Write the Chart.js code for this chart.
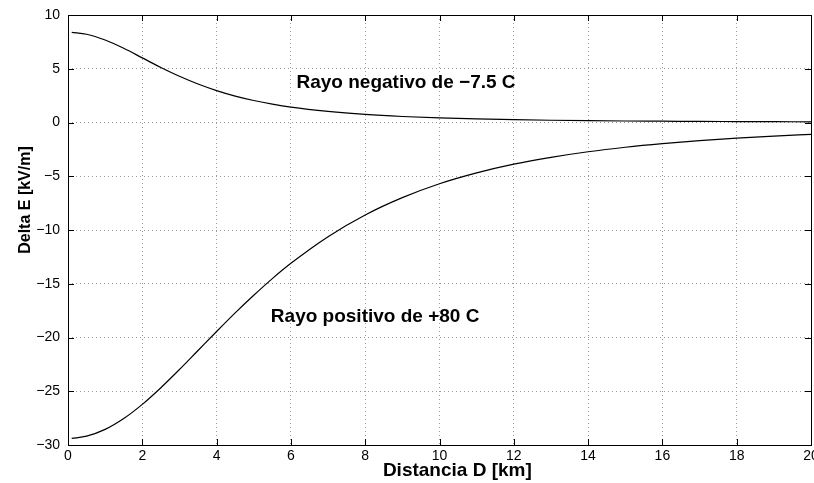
<!DOCTYPE html>
<html>
<head>
<meta charset="utf-8">
<script src="https://cdn.jsdelivr.net/npm/chart.js@4/dist/chart.umd.min.js"></script>
<style>
  html, body { margin: 0; padding: 0; background: #fff; }
  #wrap { width: 814px; height: 483px; }
</style>
</head>
<body>
<div id="wrap"><canvas id="fieldChart"></canvas></div>
<script>
// distance D [km]
const distKm = [0.1, 0.5, 1, 1.5, 2, 2.5, 3, 3.5, 4, 4.5, 5, 5.5, 6, 7, 8, 9, 10, 11, 12, 13, 14, 15, 16, 17, 18, 19, 20];
// Delta E [kV/m], negative stroke (-7.5 C)
const negStroke = [8.39, 8.21, 7.67, 6.90, 6.01, 5.12, 4.30, 3.58, 2.97, 2.46, 2.05, 1.71, 1.43, 1.03, 0.75, 0.56, 0.43, 0.34, 0.27, 0.21, 0.17, 0.14, 0.12, 0.10, 0.086, 0.074, 0.063];
// Delta E [kV/m], positive stroke (+80 C)
const posStroke = [-29.39, -29.18, -28.55, -27.54, -26.22, -24.67, -22.98, -21.21, -19.44, -17.71, -16.07, -14.52, -13.10, -10.62, -8.60, -6.99, -5.70, -4.69, -3.88, -3.24, -2.72, -2.30, -1.96, -1.68, -1.45, -1.26, -1.10];

const xTicks = [0, 2, 4, 6, 8, 10, 12, 14, 16, 18, 20];
const yTicks = [10, 5, 0, -5, -10, -15, -20, -25, -30];

const labelNeg = 'Rayo negativo de \u22127.5 C';
const labelPos = 'Rayo positivo de +80 C';
const xTitle = 'Distancia D [km]';
const yTitle = 'Delta E [kV/m]';

const FONT = '"Liberation Sans", Arial, Helvetica, sans-serif';
const minus = v => String(v).replace('-', '\u2212');

// frame, inner tick marks, annotations and axis titles (MATLAB look)
const matlabAxes = {
    id: 'matlabAxes',
    afterDraw(chart) {
        const ctx = chart.ctx;
        const a = chart.chartArea;
        const xs = chart.scales.x, ys = chart.scales.y;
        const len = 6;
        ctx.save();
        ctx.strokeStyle = '#000';
        ctx.lineWidth = 1;
        ctx.setLineDash([]);
        ctx.beginPath();
        xTicks.forEach(t => {
            const px = Math.round(xs.getPixelForValue(t)) + 0.5;
            ctx.moveTo(px, a.bottom); ctx.lineTo(px, a.bottom - len);
            ctx.moveTo(px, a.top); ctx.lineTo(px, a.top + len);
        });
        yTicks.forEach(t => {
            const py = Math.round(ys.getPixelForValue(t)) + 0.5;
            ctx.moveTo(a.left, py); ctx.lineTo(a.left + len, py);
            ctx.moveTo(a.right, py); ctx.lineTo(a.right - len, py);
        });
        ctx.stroke();
        ctx.strokeRect(Math.round(a.left) + 0.5, Math.round(a.top) + 0.5,
            Math.round(a.right - a.left), Math.round(a.bottom - a.top));

        ctx.fillStyle = '#000';
        ctx.font = 'bold 19px ' + FONT;
        ctx.textAlign = 'left';
        ctx.textBaseline = 'alphabetic';
        ctx.fillText(labelNeg, xs.getPixelForValue(6.15), ys.getPixelForValue(3.2));
        ctx.fillText(labelPos, xs.getPixelForValue(5.46), ys.getPixelForValue(-18.56));

        ctx.textAlign = 'center';
        ctx.fillText(xTitle, xs.getPixelForValue(10.48), chart.height - 7);

        ctx.font = 'bold 16px ' + FONT;
        ctx.translate(30, 200);
        ctx.rotate(-Math.PI / 2);
        ctx.fillText(yTitle, 0, 0);
        ctx.restore();
    }
};

const ctx = document.getElementById('fieldChart').getContext('2d');
const fieldChart = new Chart(ctx, {
    type: 'line',
    data: {
        datasets: [{
            label: labelNeg,
            data: distKm.map((d, i) => ({x: d, y: negStroke[i]})),
            borderColor: '#000',
            borderWidth: 1.2,
            pointRadius: 0,
            cubicInterpolationMode: 'monotone',
            fill: false
        }, {
            label: labelPos,
            data: distKm.map((d, i) => ({x: d, y: posStroke[i]})),
            borderColor: '#000',
            borderWidth: 1.2,
            pointRadius: 0,
            cubicInterpolationMode: 'monotone',
            fill: false
        }]
    },
    options: {
        responsive: true,
        maintainAspectRatio: false,
        animation: false,
        layout: { padding: { left: 0, right: 3, top: 15, bottom: 0 } },
        plugins: { legend: { display: false }, tooltip: { enabled: false } },
        scales: {
            x: {
                type: 'linear',
                min: 0, max: 20,
                afterFit: s => { s.height = 38; s.paddingLeft = 0; s.paddingRight = 0; },
                afterBuildTicks: s => { s.ticks = xTicks.map(v => ({value: v})); },
                ticks: { color: '#000', font: { family: FONT, size: 14 }, padding: 3, maxRotation: 0 },
                grid: { color: '#9a9a9a', drawTicks: false, lineWidth: 1 },
                border: { display: false, dash: [1, 3] }
            },
            y: {
                min: -30, max: 10,
                afterFit: s => { s.width = 68; s.paddingTop = 0; s.paddingBottom = 0; },
                afterBuildTicks: s => { s.ticks = yTicks.map(v => ({value: v})); },
                ticks: { color: '#000', font: { family: FONT, size: 14 }, padding: 8, callback: minus },
                grid: { color: '#9a9a9a', drawTicks: false, lineWidth: 1 },
                border: { display: false, dash: [1, 3] }
            }
        }
    },
    plugins: [matlabAxes]
});
</script>
</body>
</html>
